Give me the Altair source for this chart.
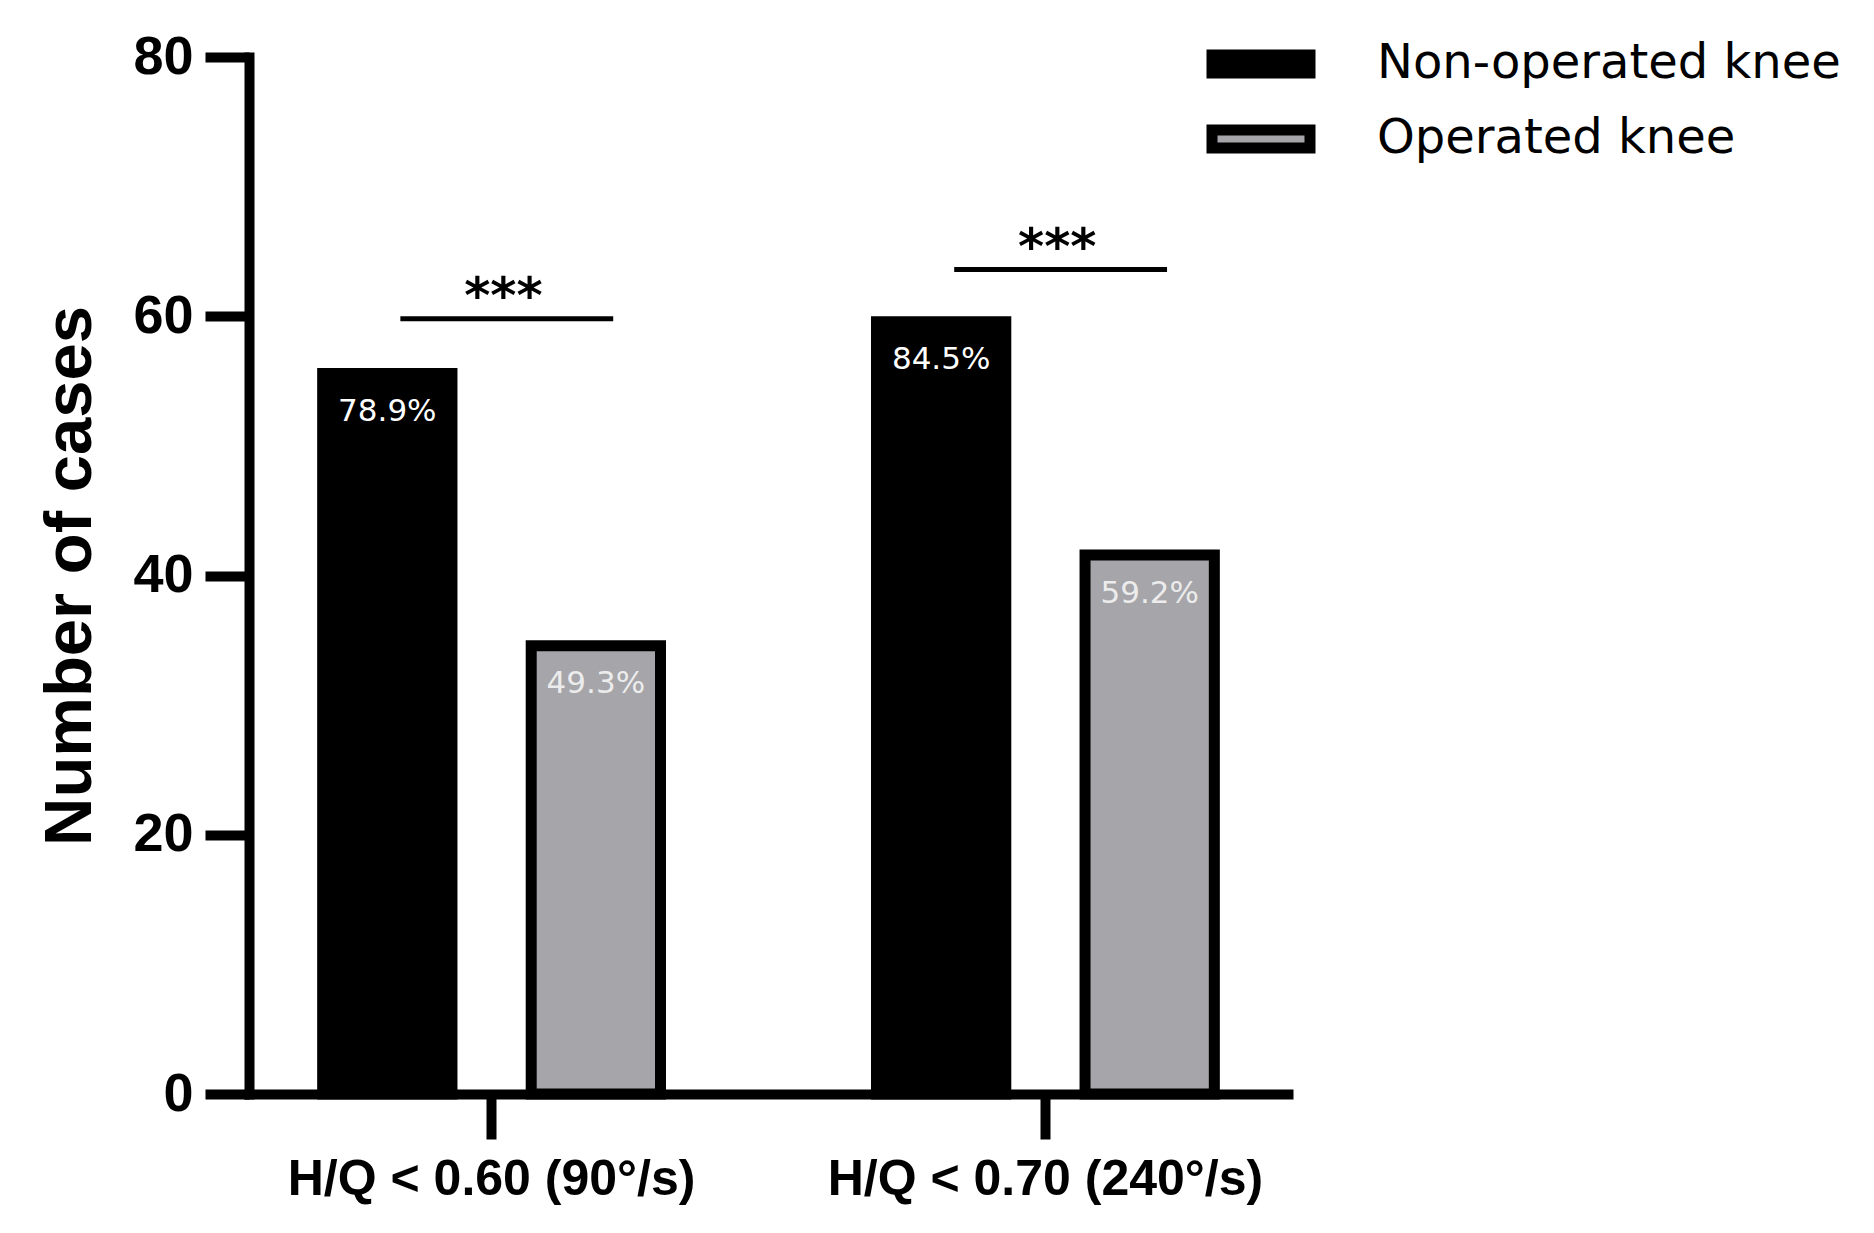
import altair as alt
import pandas as pd

# ---- data ----
groups = ["H/Q < 0.60 (90°/s)", "H/Q < 0.70 (240°/s)"]
series = ["Non-operated knee", "Operated knee"]
non_operated = [56, 60]
operated = [35, 42]
pct_non = ["78.9%", "84.5%"]
pct_op = ["49.3%", "59.2%"]
sig_level = [59.8, 63.6]
sig_text = ["***", "***"]
y_ticks = [0, 20, 40, 60, 80]

rows = []
for i, g in enumerate(groups):
    rows.append({"group": g, "series": series[0], "cases": non_operated[i], "pct": pct_non[i]})
    rows.append({"group": g, "series": series[1], "cases": operated[i], "pct": pct_op[i]})
bars_df = pd.DataFrame(rows)
sig_df = pd.DataFrame({"group": groups, "level": sig_level, "label": sig_text})

x_scale = alt.Scale(domain=groups, paddingInner=0.39, paddingOuter=0.133)
y_scale = alt.Scale(domain=[0, 80], nice=False)
off_scale = alt.Scale(domain=series, paddingInner=0.38, paddingOuter=0)
color_scale = alt.Scale(domain=series, range=["#000000", "#a6a5aa"])

x_axis = alt.Axis(title=None, labelAngle=0, labelFont="Liberation Sans", labelFontWeight="bold",
                  labelFontSize=50, labelPadding=15, labelLimit=2000, tickSize=45, tickWidth=10,
                  domainWidth=10, domainCap="square", labelColor="black",
                  tickColor="black", domainColor="black", zindex=1)
y_axis = alt.Axis(title="Number of cases", values=y_ticks, grid=False,
                  labelFont="Liberation Sans", labelFontWeight="bold", labelFontSize=54,
                  labelPadding=12, tickSize=44, tickWidth=10, domainWidth=10,
                  domainCap="square", titleFont="Liberation Sans", titleFontWeight="bold",
                  titleFontSize=67, titlePadding=28, titleColor="black", labelColor="black",
                  tickColor="black", domainColor="black", zindex=1)

legend = alt.Legend(title=None, orient="none", legendX=982, legendY=-23,
                    symbolType="M-2,-0.367H2V0.367H-2Z", symbolSize=2401,
                    symbolStrokeColor="black", symbolStrokeWidth=11, symbolOpacity=1,
                    labelFont="DejaVu Sans", labelFontSize=48, labelColor="black",
                    labelLimit=2000, labelOffset=86, rowPadding=13, padding=0)

bars = alt.Chart(bars_df).mark_bar(stroke="black", strokeWidth=11, yOffset=5.5).encode(
    x=alt.X("group:N", scale=x_scale, sort=groups, axis=x_axis),
    xOffset=alt.XOffset("series:N", scale=off_scale, sort=series),
    y=alt.Y("cases:Q", scale=y_scale, axis=y_axis),
    y2=alt.datum(0),
    fill=alt.Fill("series:N", scale=color_scale, sort=series, legend=legend),
)

labels = alt.Chart(bars_df).mark_text(font="DejaVu Sans", fontSize=31, baseline="top", dy=29).encode(
    x=alt.X("group:N", scale=x_scale, sort=groups, axis=x_axis),
    xOffset=alt.XOffset("series:N", scale=off_scale, sort=series),
    y=alt.Y("cases:Q", scale=y_scale, axis=y_axis),
    text="pct:N",
    color=alt.condition(alt.datum.series == series[1], alt.value("#ececec"), alt.value("#ffffff")),
)

rules = alt.Chart(sig_df).mark_rule(color="black", strokeWidth=5).encode(
    x=alt.X("group:N", scale=x_scale, sort=groups, bandPosition=0.23, axis=x_axis),
    x2=alt.X2("group", bandPosition=0.86),
    y=alt.Y("level:Q", scale=y_scale, axis=y_axis),
)

stars = alt.Chart(sig_df).mark_text(font="DejaVu Sans", fontSize=50, fontWeight="bold",
                                     baseline="alphabetic", dy=-6, color="black").encode(
    x=alt.X("group:N", scale=x_scale, sort=groups, bandPosition=0.535, axis=x_axis),
    y=alt.Y("level:Q", scale=y_scale, axis=y_axis),
    text="label:N",
)

chart = alt.layer(bars, labels, rules, stars).properties(
    width=1039, height=1037,
    autosize=alt.AutoSizeParams(type="none"),
    padding={"left": 241, "top": 49, "right": 575, "bottom": 130},
    background="white",
).configure_view(strokeWidth=0)

chart.save("out.html", embed_options={"renderer": "svg", "actions": False})
